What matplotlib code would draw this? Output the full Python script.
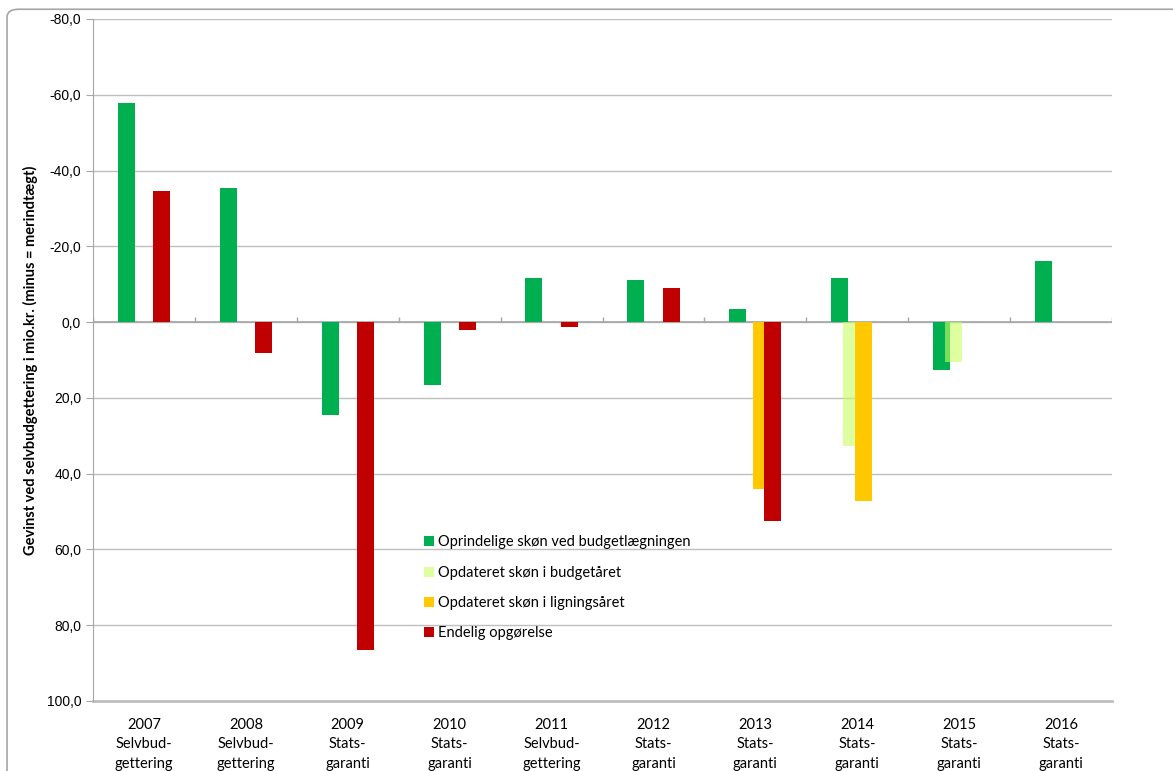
import numpy as np
import matplotlib
matplotlib.use('Agg')
import matplotlib.pyplot as plt
from matplotlib.patches import FancyBboxPatch

years = ['2007', '2008', '2009', '2010', '2011', '2012', '2013', '2014', '2015', '2016']
regimes = ['Selvbud-\ngettering', 'Selvbud-\ngettering', 'Stats-\ngaranti', 'Stats-\ngaranti',
           'Selvbud-\ngettering', 'Stats-\ngaranti', 'Stats-\ngaranti', 'Stats-\ngaranti',
           'Stats-\ngaranti', 'Stats-\ngaranti']

nan = np.nan
oprindelig = [-57.8, -35.4, 24.5, 16.6, -11.6, -11.1, -3.4, -11.6, 12.7, -16.1]
opd_budget = [nan, nan, nan, nan, nan, nan, nan, 32.7, 10.6, nan]
opd_ligning = [nan, nan, nan, nan, nan, nan, 44.1, 47.2, nan, nan]
endelig = [-34.6, 8.2, 86.6, 2.1, 1.3, -9.0, 52.5, nan, nan, nan]

series = [
    ('Oprindelige skøn ved budgetlægningen', oprindelig, '#00B050', 1.0),
    ('Opdateret skøn i budgetåret', opd_budget, '#C8FF60', 0.6),
    ('Opdateret skøn i ligningsåret', opd_ligning, '#FFC800', 1.0),
    ('Endelig opgørelse', endelig, '#C00000', 1.0),
]

plt.rcParams['font.family'] = ['Lato', 'DejaVu Sans']

fig = plt.figure(figsize=(11.73, 7.71), dpi=100)
# outer chart border
fig.patches.append(FancyBboxPatch((0.006, -0.05), 1.05, 1.038, boxstyle='round,pad=0,rounding_size=0.01',
                                  transform=fig.transFigure, fill=False, edgecolor='#A6A6A6', lw=1.2))
ax = fig.add_axes([0.0793, 0.0908, 0.8687, 0.8846])

x = np.arange(len(years))
width = 0.167
step = 0.115
for i, (label, vals, color, alpha) in enumerate(series):
    ax.bar(x + (i - 1.5) * step, vals, width, color=color, alpha=alpha, label=label, zorder=3 + i)

ax.set_ylim(100, -80)
ax.set_xlim(-0.5, len(years) - 0.5)
ax.set_yticks(np.arange(-80, 101, 20))
ax.set_yticklabels([f'{v:.1f}'.replace('.', ',') for v in np.arange(-80, 101, 20)],
                   family=['Liberation Sans'], fontsize=10)
ax.yaxis.grid(True, color='#BFBFBF', lw=1)
ax.set_axisbelow(True)
ax.axhline(100, color='#BFBFBF', lw=2, clip_on=False, zorder=1)

ax.set_xticks(x)
ax.set_xticklabels([f'{y}\n{r}' for y, r in zip(years, regimes)], fontsize=10.5, linespacing=1.5, va='top')
ax.tick_params(axis='x', length=0, pad=12)
ax.tick_params(axis='y', length=5, color='#A6A6A6')

for s in ['top', 'right', 'bottom']:
    ax.spines[s].set_visible(False)
ax.spines['left'].set_color('#A6A6A6')

# zero line with category tick marks
ax.axhline(0, color='#A6A6A6', lw=1.2, zorder=2)
ax.vlines(np.arange(-0.5, len(years)), 0, -1.3, color='#A6A6A6', lw=1, zorder=2)

ax.set_ylabel('Gevinst ved selvbudgettering i mio.kr. (minus = merindtægt)', fontsize=10.5,
              fontweight='bold', labelpad=6)

ax.legend(loc='upper left', bbox_to_anchor=(0.312, 0.262), frameon=False, fontsize=10.5,
          handlelength=0.65, handleheight=0.65, handletextpad=0.3, labelspacing=1.12)

fig.savefig('out.png', dpi=100)
